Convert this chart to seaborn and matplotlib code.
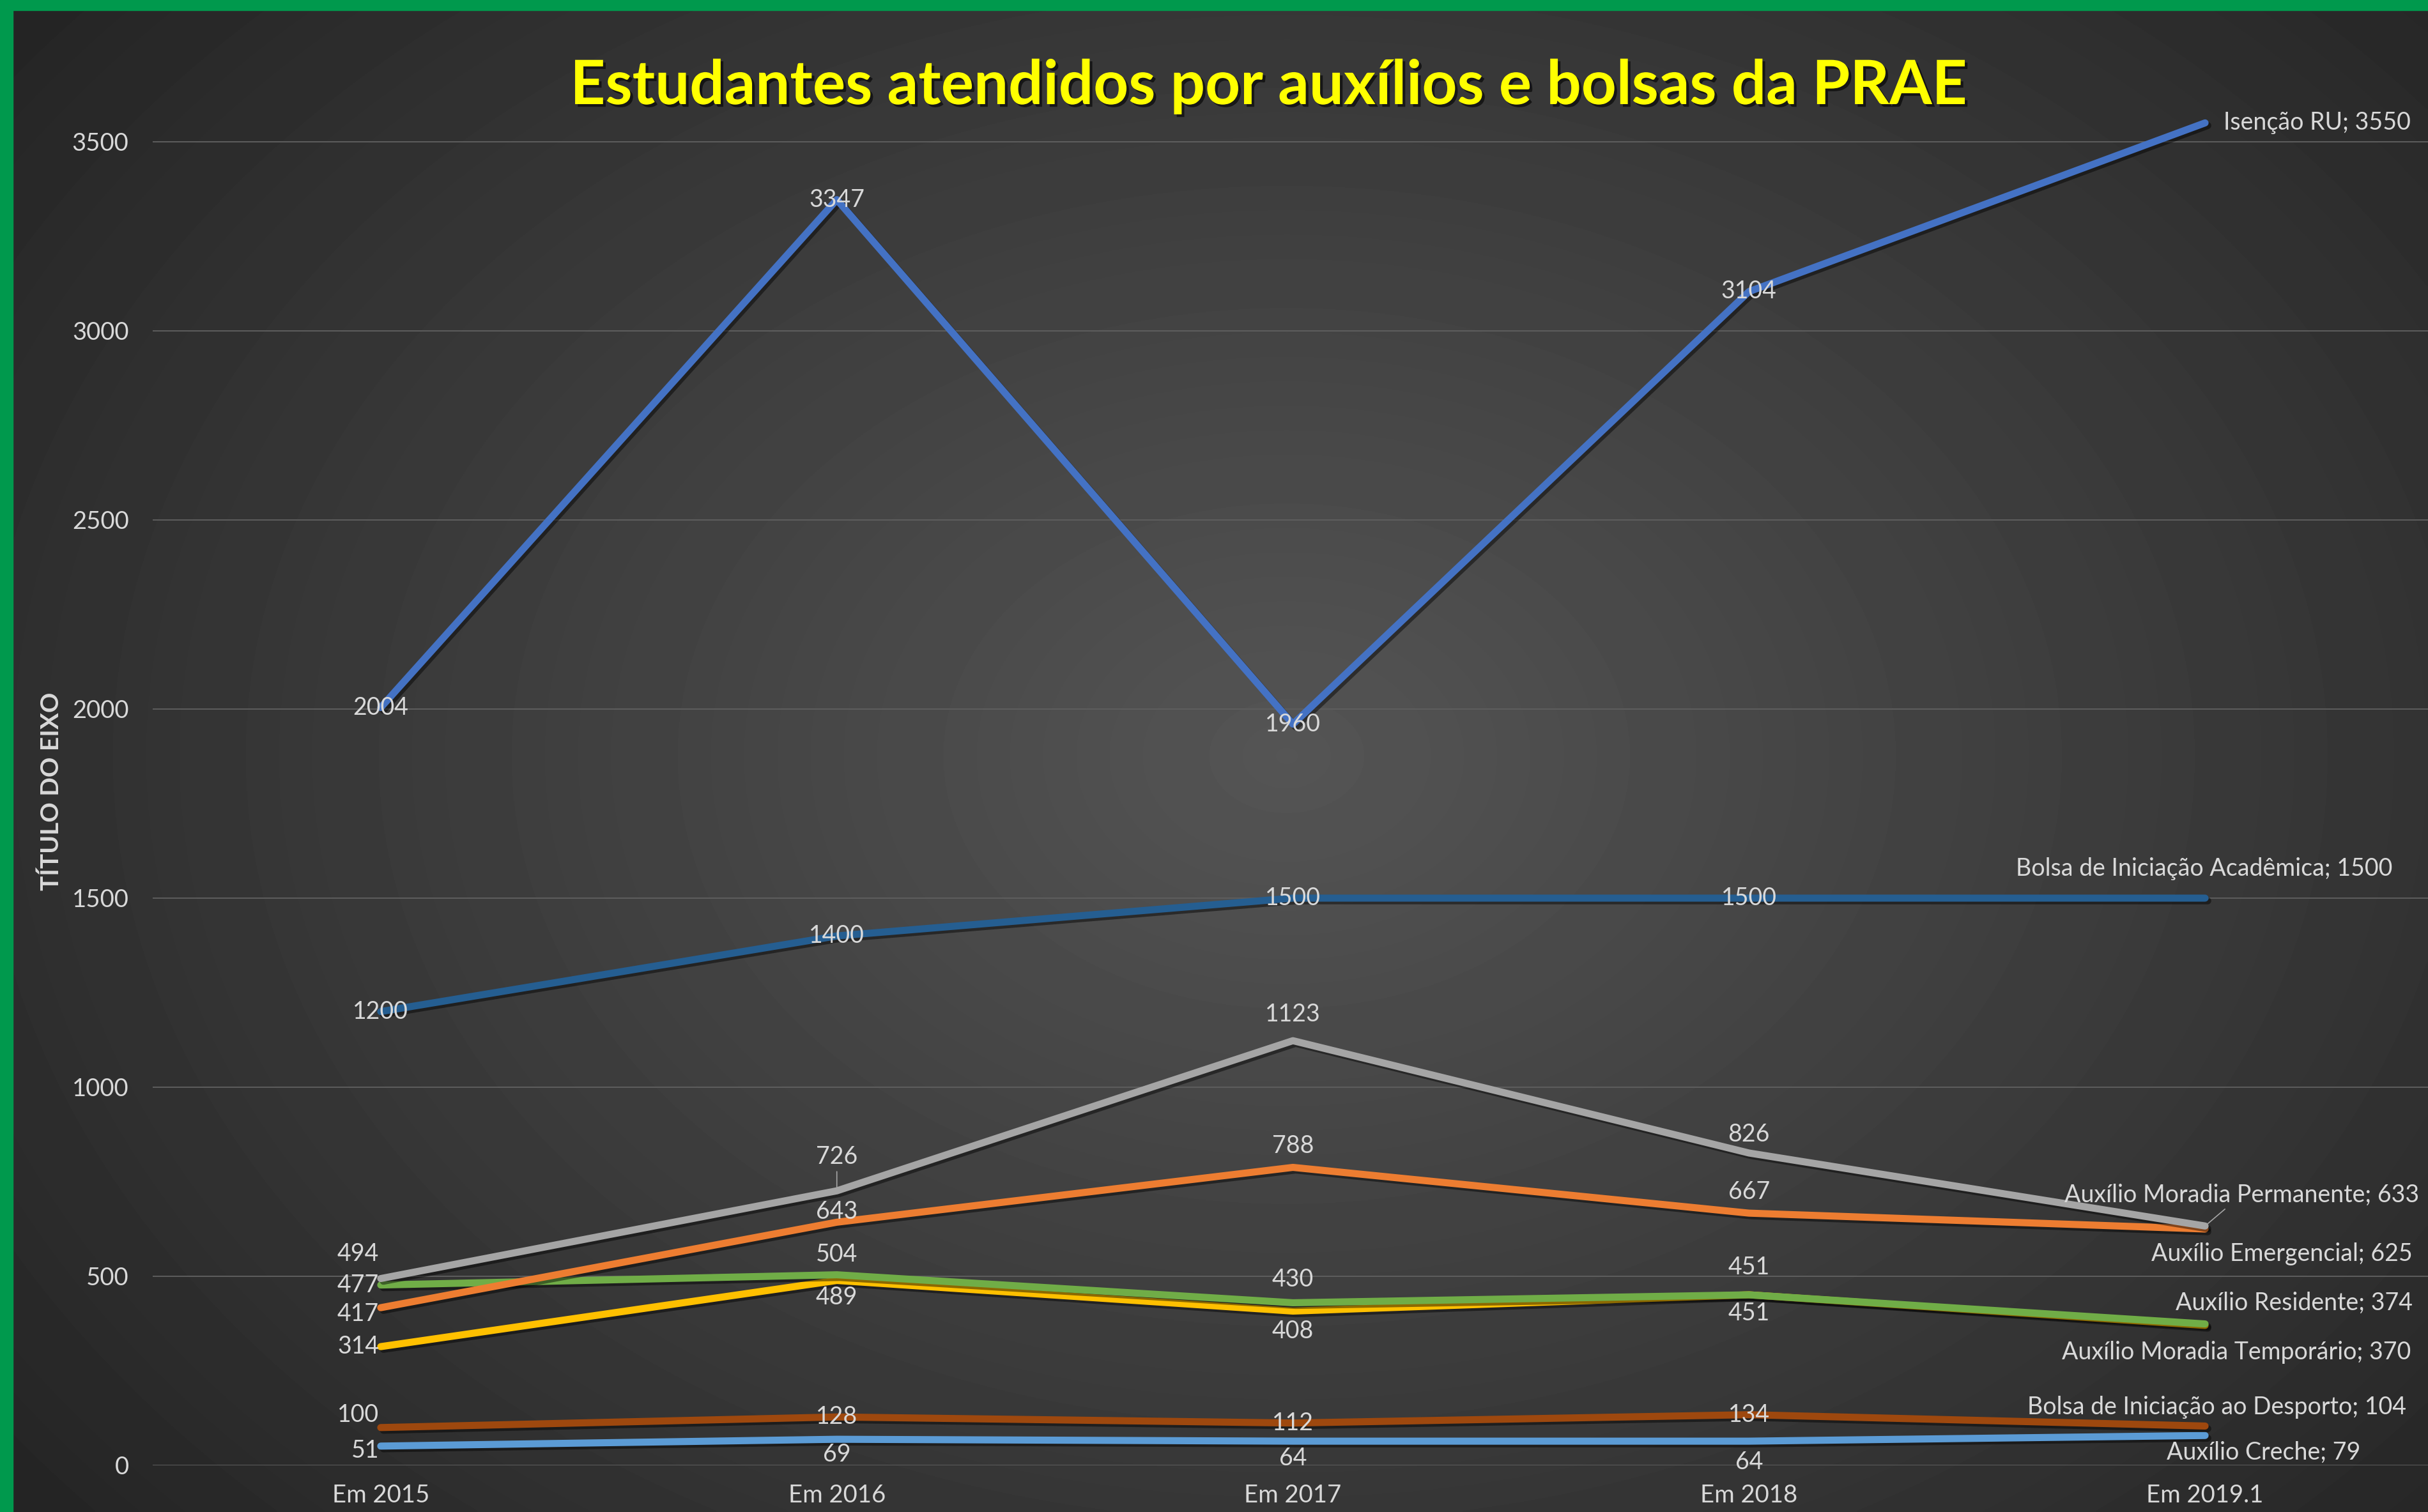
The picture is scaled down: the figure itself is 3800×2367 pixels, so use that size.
import numpy as np
import pandas as pd
import matplotlib
matplotlib.use("Agg")
import matplotlib.pyplot as plt
import matplotlib.patheffects as pe
from matplotlib.patches import Rectangle
import seaborn as sns

# dados
anos = ["Em 2015", "Em 2016", "Em 2017", "Em 2018", "Em 2019.1"]
isencao_ru = [2004, 3347, 1960, 3104, 3550]
bolsa_academica = [1200, 1400, 1500, 1500, 1500]
moradia_permanente = [494, 726, 1123, 826, 633]
emergencial = [417, 643, 788, 667, 625]
residente = [477, 504, 430, 451, 374]
moradia_temporario = [314, 489, 408, 451, 370]
bolsa_desporto = [100, 128, 112, 134, 104]
creche = [51, 69, 64, 64, 79]

nomes = ["Auxílio Creche", "Bolsa de Iniciação ao Desporto", "Auxílio Moradia Temporário",
         "Auxílio Residente", "Auxílio Emergencial", "Auxílio Moradia Permanente",
         "Bolsa de Iniciação Acadêmica", "Isenção RU"]
valores = [creche, bolsa_desporto, moradia_temporario, residente, emergencial,
           moradia_permanente, bolsa_academica, isencao_ru]
cores = ["#5B9BD5", "#9E480E", "#FFC000", "#70AD47", "#ED7D31", "#A5A5A5", "#255E91", "#4472C4"]

# posicao dos rotulos (dx, dy em pontos, alinhamento)
c = "center"
r = "right"
rotulos = {
    "Isenção RU": [(0, 0, c), (0, 0, c), (0, 0, c), (0, 0, c)],
    "Bolsa de Iniciação Acadêmica": [(0, 0, c), (0, 0, c), (0, 0, c), (0, 0, c)],
    "Auxílio Moradia Permanente": [(-2, 28, r), (0, 38, c), (0, 30, c), (0, 21, c)],
    "Auxílio Emergencial": [(-2, -7, r), (0, 12, c), (0, 24, c), (0, 24, c)],
    "Auxílio Residente": [(-2, 0, r), (0, 23, c), (0, 26, c), (0, 31, c)],
    "Auxílio Moradia Temporário": [(-2, 0, r), (0, -19, c), (0, -23, c), (0, -21, c)],
    "Bolsa de Iniciação ao Desporto": [(-2, 14, r), (0, 0, c), (0, 0, c), (0, 0, c)],
    "Auxílio Creche": [(-2, -5, r), (0, -17, c), (0, -19, c), (0, -24, c)],
}
rotulos_fim = {
    "Isenção RU": (21, 0, "left"),
    "Bolsa de Iniciação Acadêmica": (211, 33, r),
    "Auxílio Moradia Permanente": (241, 35, r),
    "Auxílio Emergencial": (234, -28, r),
    "Auxílio Residente": (234, 24, r),
    "Auxílio Moradia Temporário": (232, -30, r),
    "Bolsa de Iniciação ao Desporto": (227, 21, r),
    "Auxílio Creche": (175, -19, r),
}
com_linha = [("Auxílio Moradia Permanente", 1), ("Auxílio Moradia Permanente", 4)]

df = pd.DataFrame({
    "ano": anos * len(nomes),
    "serie": np.repeat(nomes, len(anos)),
    "valor": np.concatenate(valores),
})

sns.set_style("dark")
plt.rcParams["font.family"] = ["Lato", "DejaVu Sans"]

fig = plt.figure(figsize=(38, 23.67), dpi=100)

# fundo com gradiente radial
bg = fig.add_axes([0, 0, 1, 1], zorder=0)
yy, xx = np.mgrid[0:1:600j, 0:1:960j]
dist = np.sqrt(((xx - 0.53) / 0.66) ** 2 + ((yy - 0.50) / 0.78) ** 2)
dist = np.clip(dist, 0, 1)
nivel = (0x55 + (0x25 - 0x55) * dist ** 1.0) / 255
bg.imshow(nivel, cmap="gray", vmin=0, vmax=1, aspect="auto", extent=[0, 1, 0, 1],
          origin="upper", interpolation="bicubic")
bg.set_axis_off()

# eixo: 0 em y=2294 px, 3500 em y=222 px; topo estendido ate 3600
topo = 222 - 100 * (2294 - 222) / 3500
ax = fig.add_axes([239 / 3800, 1 - 2294 / 2367, 3569 / 3800, (2294 - topo) / 2367], zorder=1)
ax.set_facecolor("none")

sns.lineplot(data=df, x="ano", y="valor", hue="serie", hue_order=nomes, palette=cores,
             linewidth=8, legend=False, sort=False, ax=ax)
for linha in ax.lines:
    linha.set_solid_capstyle("round")
    linha.set_solid_joinstyle("round")
    linha.set_path_effects([pe.SimpleLineShadow(offset=(3, -3), shadow_color="black", alpha=0.45),
                            pe.Normal()])

ax.set_xlim(-0.5, 4.5)
ax.set_ylim(0, 3600)
ax.set_yticks(range(0, 3501, 500))
ax.grid(axis="y", color="#5E5E5E", linewidth=1.4)
ax.grid(axis="x", visible=False)
for s in ax.spines.values():
    s.set_visible(False)
ax.tick_params(axis="y", length=0, pad=27, labelsize=27.5, labelcolor="#D9D9D9")
ax.tick_params(axis="x", length=0, pad=21, labelsize=27.5, labelcolor="#D9D9D9")
ax.set_xlabel("")
ax.set_ylabel("TÍTULO DO EIXO", fontsize=28, fontweight="bold", color="#D9D9D9")
ax.yaxis.set_label_coords(-0.0395, 0.495)

# rotulos de dados
cor_txt = "#D9D9D9"
for nome, vals in zip(nomes, valores):
    for i in range(4):
        dx, dy, ha = rotulos[nome][i]
        kw = {}
        if (nome, i) in com_linha:
            kw["arrowprops"] = dict(arrowstyle="-", color="#A6A6A6", lw=1.2, shrinkA=1, shrinkB=2)
        ax.annotate(str(vals[i]), (i, vals[i]), xytext=(dx, dy), textcoords="offset points",
                    ha=ha, va="center", fontsize=27, color=cor_txt, zorder=5, **kw)
    dx, dy, ha = rotulos_fim[nome]
    kw = {}
    if (nome, 4) in com_linha:
        kw["arrowprops"] = dict(arrowstyle="-", color="#A6A6A6", lw=1.2, shrinkA=1, shrinkB=2)
    ax.annotate(f"{nome}; {vals[4]}", (4, vals[4]), xytext=(dx, dy), textcoords="offset points",
                ha=ha, va="center", fontsize=27, color=cor_txt, zorder=5,
                annotation_clip=False, **kw)

# titulo
fig.text(1986 / 3800, 1 - 163 / 2367, "Estudantes atendidos por auxílios e bolsas da PRAE",
         ha="center", va="baseline", fontsize=69, fontweight="bold", color="#FFFF00", zorder=5,
         path_effects=[pe.withSimplePatchShadow(offset=(3, -3), shadow_rgbFace="black", alpha=0.6)])

# bordas verdes
fig.patches.append(Rectangle((0, 1 - 16 / 2367), 1, 16 / 2367, transform=fig.transFigure,
                             color="#00994D", zorder=10))
fig.patches.append(Rectangle((0, 0), 20 / 3800, 1, transform=fig.transFigure,
                             color="#00994D", zorder=10))

plt.savefig("out.png", dpi=100)
